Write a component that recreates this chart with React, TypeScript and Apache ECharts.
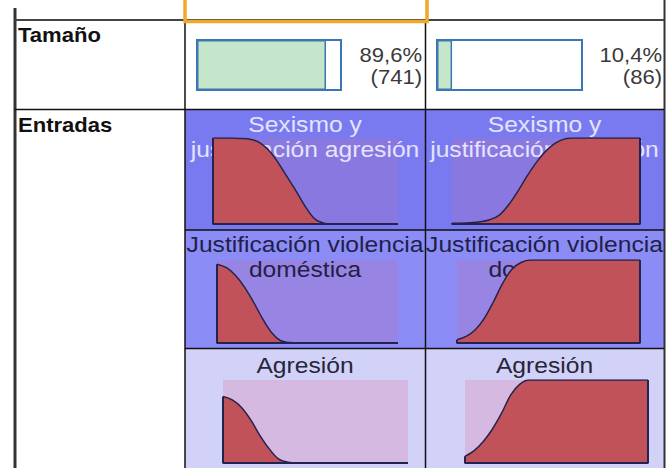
import { useEffect, useRef } from 'react';
import * as echarts from 'echarts';

// ---- data ----
const CLUSTERS = ['Cluster 1', 'Cluster 2'];
const SIZE_PCT = [89.6, 10.4];
const SIZE_N = [741, 86];
const ROW_LABELS = ['Tamaño', 'Entradas'];
const INPUTS = [
  ['Sexismo y', 'justificación agresión'],
  ['Justificación violencia', 'doméstica'],
  ['Agresión'],
];
const XS = [0, 0.05, 0.1, 0.15, 0.2, 0.25, 0.3, 0.35, 0.4, 0.45, 0.5, 0.55, 0.6, 0.65, 0.7, 0.75, 0.8, 0.85, 0.9, 0.95, 1];
const SEXISMO_C1 = [1, 1, 1, 0.995, 0.985, 0.95, 0.86, 0.72, 0.55, 0.38, 0.2, 0.06, 0.01, 0, 0, 0, 0, 0, 0, 0, 0];
const SEXISMO_C2 = [0.01, 0.01, 0.015, 0.025, 0.05, 0.1, 0.22, 0.38, 0.56, 0.72, 0.85, 0.94, 0.99, 1, 1, 1, 1, 1, 1, 1, 1];
const JUSTIF_C1 = [0.95, 0.91, 0.82, 0.68, 0.5, 0.3, 0.13, 0.03, 0.005, 0, 0, 0, 0, 0, 0, 0, 0, 0, 0, 0, 0];
const JUSTIF_C2 = [0.04, 0.08, 0.16, 0.3, 0.5, 0.72, 0.89, 0.97, 1, 1, 1, 1, 1, 1, 1, 1, 1, 1, 1, 1, 1];
const AGRESION_C1 = [0.8, 0.76, 0.67, 0.52, 0.33, 0.17, 0.05, 0.01, 0, 0, 0, 0, 0, 0, 0, 0, 0, 0, 0, 0, 0];
const AGRESION_C2 = [0.08, 0.15, 0.26, 0.41, 0.6, 0.82, 0.95, 1, 1, 1, 1, 1, 1, 1, 1, 1, 1, 1, 1, 1, 1];
const CURVES = [
  [SEXISMO_C1, SEXISMO_C2],
  [JUSTIF_C1, JUSTIF_C2],
  [AGRESION_C1, AGRESION_C2],
];

// ---- layout / style ----
const FONT = '"Liberation Sans", Arial, sans-serif';
const COLS = [
  { x0: 185, x1: 425 },
  { x0: 425, x1: 664 },
];
const CELL_Y = [
  { y0: 110, y1: 230 },
  { y0: 230, y1: 348 },
  { y0: 348, y1: 468 },
];
const CELL_BG = ['#7a7af0', '#8c8cf6', '#d2d2f9'];
const PLOT_BG = ['#8878e0', '#9884e2', '#d6b9e0'];
const TITLE_COLOR = ['#e4e4ff', '#1f1f48', '#26263a'];
const TITLE_BASELINES = [[132, 157], [252, 277], [373]];
const PLOT_GRIDS = [
  [
    { left: 213, top: 138, width: 185, height: 86 },
    { left: 452, top: 138, width: 188, height: 86 },
  ],
  [
    { left: 217, top: 260, width: 181, height: 83 },
    { left: 457, top: 260, width: 183, height: 83 },
  ],
  [
    { left: 223, top: 380, width: 185, height: 83 },
    { left: 465, top: 380, width: 183, height: 83 },
  ],
];
const BAR_GRIDS = [
  { left: 197, top: 40, width: 144, height: 50 },
  { left: 437, top: 40, width: 145, height: 50 },
];
const NUM_RIGHT = [422, 662];
const BLUE = '#3b78b3';
const NAVY = '#23234f';
const RED = '#c2525a';

function txt(text: string, x: number, baseline: number, size: number, color: string, align: string, opts: any = {}) {
  return {
    type: 'text',
    x,
    y: baseline - size * 0.35,
    z: 2,
    scaleX: opts.scaleX ?? 1,
    silent: true,
    style: {
      text,
      fill: color,
      fontSize: size,
      fontFamily: FONT,
      fontWeight: opts.bold ? 'bold' : 'normal',
      align,
      verticalAlign: 'middle',
      textAlign: align,
      textVerticalAlign: 'middle',
    },
  };
}

function line(x1: number, y1: number, x2: number, y2: number, color: string, w: number) {
  return { type: 'line', z: 10, silent: true, shape: { x1, y1, x2, y2 }, style: { stroke: color, lineWidth: w } };
}

export default function App() {
  const ref = useRef<HTMLDivElement>(null);
  useEffect(() => {
    if (!ref.current) return;
    const chart = echarts.init(ref.current, undefined, { renderer: 'svg' });

    const grids: any[] = [];
    const xAxes: any[] = [];
    const yAxes: any[] = [];
    const series: any[] = [];

    BAR_GRIDS.forEach((g, c) => {
      grids.push({ ...g, show: true, backgroundColor: '#ffffff', borderColor: BLUE, borderWidth: 2, z: 1 });
      xAxes.push({ type: 'value', gridIndex: c, min: 0, max: 100, show: false });
      yAxes.push({ type: 'category', gridIndex: c, data: [ROW_LABELS[0]], show: false });
      series.push({
        type: 'bar',
        name: CLUSTERS[c],
        xAxisIndex: c,
        yAxisIndex: c,
        data: [SIZE_PCT[c]],
        barWidth: '100%',
        silent: true,
        z: 3,
        itemStyle: { color: '#c6e6cc', borderColor: BLUE, borderWidth: 1.5 },
      });
    });

    CURVES.forEach((pair, i) => {
      pair.forEach((vals, c) => {
        const gi = grids.length;
        grids.push({ ...PLOT_GRIDS[i][c], show: true, backgroundColor: PLOT_BG[i], borderWidth: 0, z: 1 });
        xAxes.push({ type: 'value', gridIndex: gi, min: 0, max: 1, show: false });
        yAxes.push({ type: 'value', gridIndex: gi, min: 0, max: 1, show: false });
        series.push({
          type: 'line',
          xAxisIndex: gi,
          yAxisIndex: gi,
          data: XS.map((x, k) => [x, vals[k]]),
          smooth: 0.35,
          symbol: 'none',
          silent: true,
          z: 3,
          lineStyle: { color: NAVY, width: 1.5 },
          areaStyle: { color: RED, opacity: 1 },
        });
        series.push({
          type: 'line',
          xAxisIndex: gi,
          yAxisIndex: gi,
          data: [
            [XS[XS.length - 1], vals[vals.length - 1]],
            [XS[XS.length - 1], 0],
            [XS[0], 0],
            [XS[0], vals[0]],
          ],
          symbol: 'none',
          silent: true,
          z: 4,
          lineStyle: { color: NAVY, width: 2 },
        });
      });
    });

    const graphics: any[] = [];
    CELL_Y.forEach((cy, i) => {
      COLS.forEach((col) => {
        graphics.push({
          type: 'rect',
          z: 0,
          silent: true,
          shape: { x: col.x0, y: cy.y0, width: col.x1 - col.x0, height: cy.y1 - cy.y0 },
          style: { fill: CELL_BG[i] },
        });
      });
    });
    INPUTS.forEach((lines, i) => {
      COLS.forEach((col) => {
        const cx = (col.x0 + col.x1) / 2;
        lines.forEach((l, k) => {
          graphics.push(txt(l, cx, TITLE_BASELINES[i][k], 22, TITLE_COLOR[i], 'center', { scaleX: 1.12 }));
        });
      });
    });
    graphics.push(txt(ROW_LABELS[0], 18, 43, 21, '#111111', 'left', { bold: true, scaleX: 1.05 }));
    graphics.push(txt(ROW_LABELS[1], 18, 133, 21, '#111111', 'left', { bold: true, scaleX: 1.05 }));
    SIZE_PCT.forEach((p, c) => {
      graphics.push(txt(p.toFixed(1).replace('.', ',') + '%', NUM_RIGHT[c], 63, 21, '#3a3a3a', 'right', { scaleX: 1.05 }));
      graphics.push(txt('(' + SIZE_N[c] + ')', NUM_RIGHT[c], 85, 21, '#3a3a3a', 'right', { scaleX: 1.05 }));
    });
    graphics.push(line(15, 8, 15, 468, '#333333', 3));
    graphics.push(line(664.5, 0, 664.5, 468, '#333333', 2));
    graphics.push(line(15, 20, 664, 20, '#444444', 2));
    graphics.push(line(185, 20, 185, 468, '#111111', 1.5));
    graphics.push(line(425.5, 20, 425.5, 468, '#111111', 1.5));
    graphics.push(line(15, 109.5, 664, 109.5, '#111111', 1.5));
    graphics.push(line(185, 230, 664, 230, '#111111', 1.5));
    graphics.push(line(185, 348.5, 664, 348.5, '#111111', 1.5));
    graphics.push({
      type: 'polyline',
      z: 11,
      silent: true,
      shape: { points: [[185, 0], [185, 21.5], [427, 21.5], [427, 0]] },
      style: { stroke: '#f0a828', lineWidth: 3.5, fill: 'none' },
    });

    chart.setOption({
      animation: false,
      backgroundColor: '#ffffff',
      grid: grids,
      xAxis: xAxes,
      yAxis: yAxes,
      series,
      graphic: { elements: graphics },
    });
    return () => chart.dispose();
  }, []);
  return <div ref={ref} style={{ position: 'absolute', left: 0, top: 0, width: 666, height: 468 }} />;
}
